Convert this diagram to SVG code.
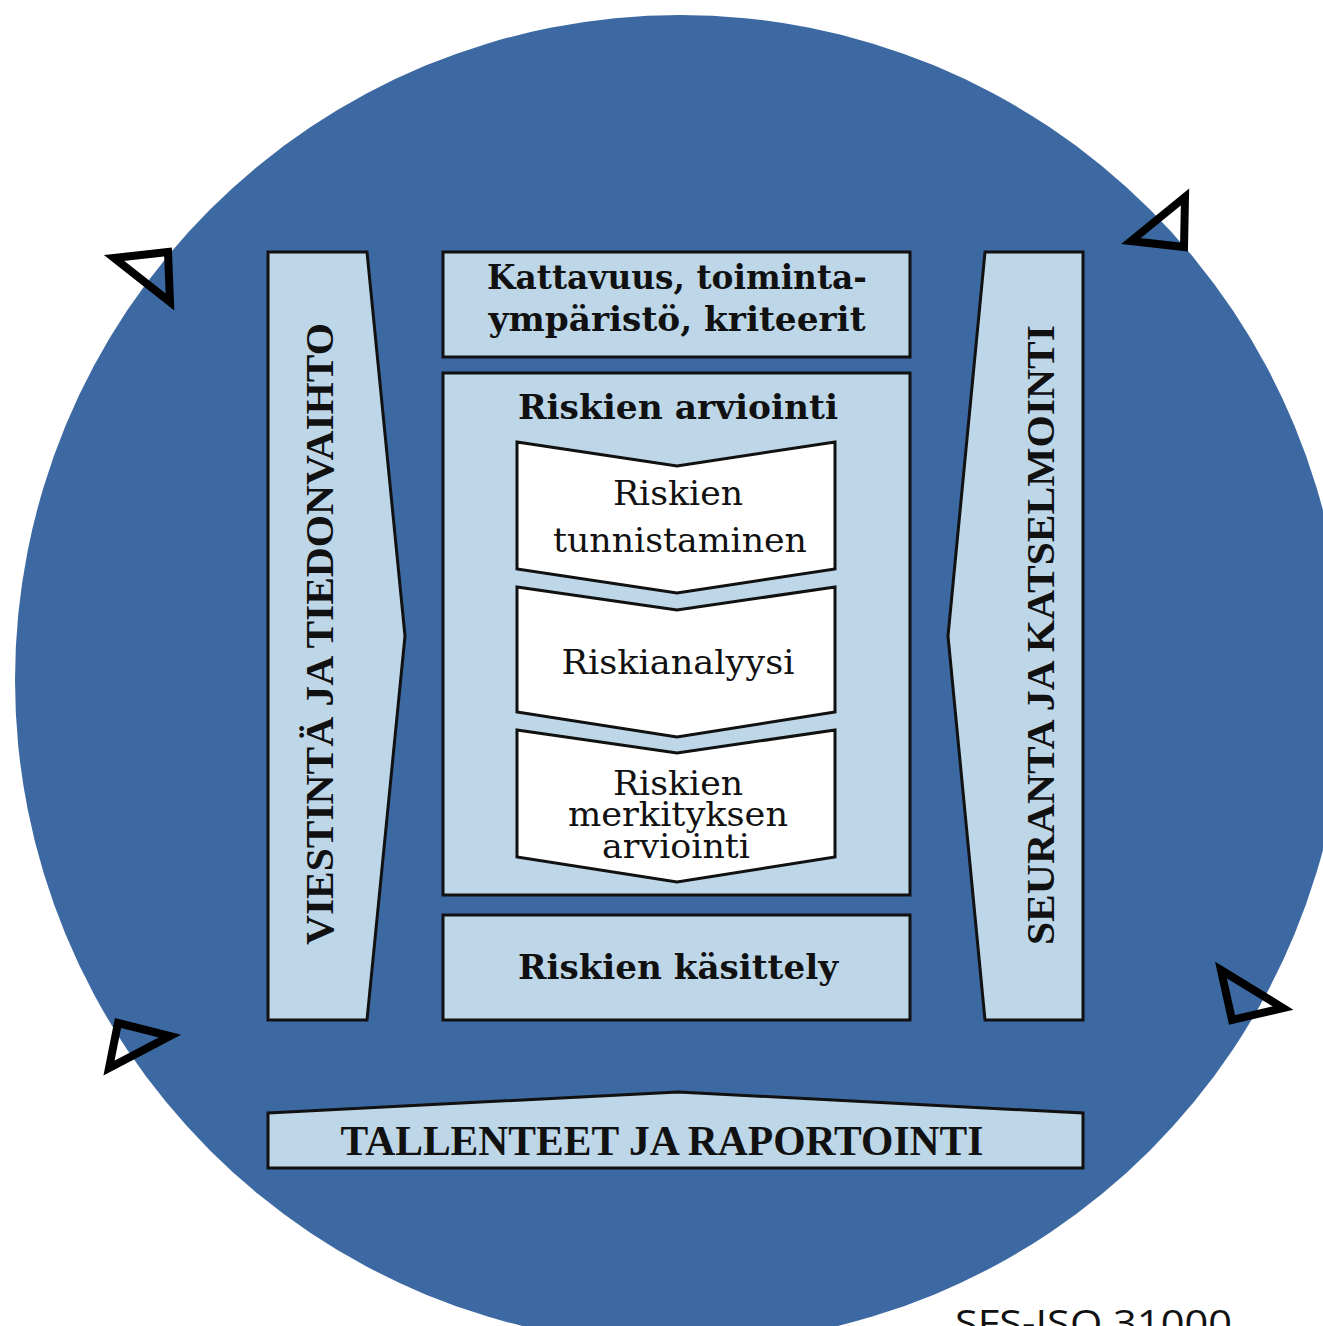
<svg xmlns="http://www.w3.org/2000/svg" width="1323" height="1326" viewBox="0 0 1323 1326">
<style>
.box{fill:#bdd7e8;stroke:#111;stroke-width:3;stroke-linejoin:miter}
.chev{fill:#fff;stroke:#111;stroke-width:3}
.tri{fill:none;stroke:#000;stroke-width:8;stroke-linejoin:miter}
.hb{font-family:"DejaVu Serif","Liberation Serif",serif;font-weight:bold;fill:#111;text-anchor:middle}
.rg{font-family:"DejaVu Serif","Liberation Serif",serif;fill:#111;text-anchor:middle}
.cap{font-family:"Liberation Serif",serif;font-weight:bold;fill:#111;text-anchor:middle}
</style>
<rect width="1323" height="1326" fill="#fff"/>
<g id="circle"><circle cx="680" cy="680" r="665" fill="#3d69a2"/></g>
<g id="connectors">
<polygon class="tri" points="114,258 168,252 170,302"/>
<polygon class="tri" points="1131,241 1185,197 1184,247"/>
<polygon class="tri" points="118,1023 170,1036 109,1068"/>
<polygon class="tri" points="1221,970 1283,1008 1232,1020"/>
</g>
<g id="viestinta">
<polygon class="box" points="268,252 367,252 405,636 367,1020 268,1020"/>
<text class="cap" font-size="40" transform="translate(333,634) rotate(-90)" textLength="622" lengthAdjust="spacingAndGlyphs">VIESTINTÄ JA TIEDONVAIHTO</text>
</g>
<g id="seuranta">
<polygon class="box" points="985,252 1083,252 1083,1020 985,1020 948,636"/>
<text class="cap" font-size="40" transform="translate(1054,635) rotate(-90)" textLength="620" lengthAdjust="spacingAndGlyphs">SEURANTA JA KATSELMOINTI</text>
</g>
<g id="kattavuus">
<rect class="box" x="443" y="252" width="467" height="105"/>
<text class="hb" font-size="33" x="677" y="289" textLength="380" lengthAdjust="spacingAndGlyphs">Kattavuus, toiminta-</text>
<text class="hb" font-size="33" x="677" y="331" textLength="377" lengthAdjust="spacingAndGlyphs">ympäristö, kriteerit</text>
</g>
<g id="arviointi">
<rect class="box" x="443" y="373" width="467" height="522"/>
<text class="hb" font-size="33" x="678" y="419" textLength="320" lengthAdjust="spacingAndGlyphs">Riskien arviointi</text>
</g>
<g id="tunnistaminen">
<polygon class="chev" points="517,442 677,466 835,442 835,569 677,593 517,569"/>
<text class="rg" font-size="33" x="678" y="505" textLength="130" lengthAdjust="spacingAndGlyphs">Riskien</text>
<text class="rg" font-size="33" x="680" y="552" textLength="254" lengthAdjust="spacingAndGlyphs">tunnistaminen</text>
</g>
<g id="analyysi">
<polygon class="chev" points="517,587 677,610 835,587 835,712 677,737 517,712"/>
<text class="rg" font-size="33" x="678" y="674" textLength="233" lengthAdjust="spacingAndGlyphs">Riskianalyysi</text>
</g>
<g id="merkitys">
<polygon class="chev" points="517,730 677,753 835,730 835,857 677,882 517,857"/>
<text class="rg" font-size="33" x="678" y="795" textLength="130" lengthAdjust="spacingAndGlyphs">Riskien</text>
<text class="rg" font-size="33" x="678" y="826" textLength="220" lengthAdjust="spacingAndGlyphs">merkityksen</text>
<text class="rg" font-size="33" x="676" y="858" textLength="148" lengthAdjust="spacingAndGlyphs">arviointi</text>
</g>
<g id="kasittely">
<rect class="box" x="443" y="915" width="467" height="105"/>
<text class="hb" font-size="33" x="678" y="979" textLength="320" lengthAdjust="spacingAndGlyphs">Riskien käsittely</text>
</g>
<g id="tallenteet">
<polygon class="box" points="268,1113 678,1092 1083,1113 1083,1168 268,1168"/>
<text class="cap" font-size="42" x="662" y="1155" textLength="643" lengthAdjust="spacingAndGlyphs">TALLENTEET JA RAPORTOINTI</text>
</g>
<text font-family="'Open Sans','Liberation Sans',sans-serif" font-size="37" fill="#111" x="955" y="1336" textLength="277" lengthAdjust="spacingAndGlyphs">SFS-ISO 31000</text>
</svg>
